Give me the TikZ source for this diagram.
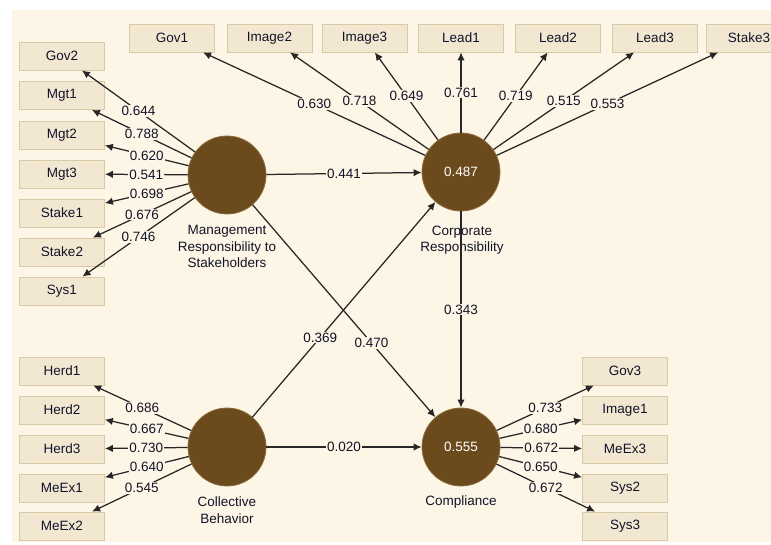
\documentclass[tikz,border=0pt]{standalone}
\usepackage{fontspec}
\setmainfont{Liberation Sans}
\usetikzlibrary{arrows.meta}
\definecolor{bg}{HTML}{FDF6E7}
\definecolor{boxfill}{HTML}{F2E8D2}
\definecolor{boxline}{HTML}{D9C9A6}
\definecolor{lv}{HTML}{6B4A1E}
\definecolor{lvline}{HTML}{8C6C3A}
\definecolor{ink}{HTML}{121228}
\definecolor{edge}{HTML}{262626}
\tikzset{
  ind/.style={draw=boxline, fill=boxfill, line width=0.8pt, minimum width=85pt, minimum height=28pt, inner sep=0pt, text=ink, font=\fontsize{13.5}{16}\selectfont},
  latent/.style={circle, fill=lv, draw=lvline, line width=0.8pt, minimum size=78pt, inner sep=0pt, text=white, font=\fontsize{13.5}{16}\selectfont},
  lvcaption/.style={align=center, text=ink, font=\fontsize{13.5}{16.5}\selectfont, inner sep=0pt},
  lab/.style={fill=bg, inner sep=1pt, text=ink, font=\fontsize{13.5}{16}\selectfont},
  arr/.style={draw=edge, line width=1.25pt, -{Latex[length=8pt,width=7.5pt]}}
}
\begin{document}
\begin{tikzpicture}[x=1pt,y=-1pt]
\useasboundingbox (0,0) rectangle (771,545);
\fill[bg] (12,10) rectangle (771,542);
\begin{scope}
\clip (0,0) rectangle (771,545);
% latent variables
\node[latent] (m) at (227,175) {};
\node[latent] (c) at (461,172) {0.487};
\node[latent] (b) at (227,447) {};
\node[latent] (p) at (461,447) {0.555};
\node[lvcaption] (mcap) at (227,246.5) {Management\\Responsibility to\\Stakeholders};
\node[lvcaption] (ccap) at (462,240) {Corporate\\Responsibility};
\node[lvcaption] (bcap) at (227,510) {Collective\\Behavior};
\node[lvcaption] (pcap) at (461,502) {Compliance};
% top indicators
\node[ind] (gov1) at (172,38) {Gov1};
\node[ind] (image2) at (269.5,38) {Image2};
\node[ind] (image3) at (364.5,38) {Image3};
\node[ind] (lead1) at (461,38) {Lead1};
\node[ind] (lead2) at (558,38) {Lead2};
\node[ind] (lead3) at (655,38) {Lead3};
\node[ind] (stake3) at (749,38) {Stake3};
% left upper indicators
\node[ind] (gov2) at (62,56) {Gov2};
\node[ind] (mgt1) at (62,95.5) {Mgt1};
\node[ind] (mgt2) at (62,135) {Mgt2};
\node[ind] (mgt3) at (62,174) {Mgt3};
\node[ind] (stake1) at (62,213) {Stake1};
\node[ind] (stake2) at (62,252) {Stake2};
\node[ind] (sys1) at (62,291) {Sys1};
% left lower indicators
\node[ind] (herd1) at (62,371) {Herd1};
\node[ind] (herd2) at (62,410) {Herd2};
\node[ind] (herd3) at (62,449) {Herd3};
\node[ind] (meex1) at (62,488) {MeEx1};
\node[ind] (meex2) at (62,526) {MeEx2};
% right lower indicators
\node[ind] (gov3) at (625,371) {Gov3};
\node[ind] (image1) at (625,410) {Image1};
\node[ind] (meex3) at (625,449) {MeEx3};
\node[ind] (sys2) at (625,488) {Sys2};
\node[ind] (sys3) at (625,526) {Sys3};
% outer loadings MRS
\draw[arr] (m) -- node[lab]{0.644} (gov2);
\draw[arr] (m) -- node[lab]{0.788} (mgt1);
\draw[arr] (m) -- node[lab]{0.620} (mgt2);
\draw[arr] (m) -- node[lab]{0.541} (mgt3);
\draw[arr] (m) -- node[lab]{0.698} (stake1);
\draw[arr] (m) -- node[lab]{0.676} (stake2);
\draw[arr] (m) -- node[lab]{0.746} (sys1);
% outer loadings Corporate
\draw[arr] (c) -- node[lab]{0.630} (gov1);
\draw[arr] (c) -- node[lab]{0.718} (image2);
\draw[arr] (c) -- node[lab]{0.649} (image3);
\draw[arr] (c) -- node[lab]{0.761} (lead1);
\draw[arr] (c) -- node[lab]{0.719} (lead2);
\draw[arr] (c) -- node[lab]{0.515} (lead3);
\draw[arr] (c) -- node[lab]{0.553} (stake3);
% outer loadings Collective
\draw[arr] (b) -- node[lab]{0.686} (herd1);
\draw[arr] (b) -- node[lab]{0.667} (herd2);
\draw[arr] (b) -- node[lab]{0.730} (herd3);
\draw[arr] (b) -- node[lab]{0.640} (meex1);
\draw[arr] (b) -- node[lab]{0.545} (meex2);
% outer loadings Compliance
\draw[arr] (p) -- node[lab]{0.733} (gov3);
\draw[arr] (p) -- node[lab]{0.680} (image1);
\draw[arr] (p) -- node[lab]{0.672} (meex3);
\draw[arr] (p) -- node[lab]{0.650} (sys2);
\draw[arr] (p) -- node[lab]{0.672} (sys3);
% structural paths
\draw[arr] (m) -- node[lab]{0.441} (c);
\draw[arr] (c) -- node[lab]{0.343} (p);
\draw[arr] (m) -- node[lab,pos=0.65]{0.470} (p);
\draw[arr] (b) -- node[lab,pos=0.37]{0.369} (c);
\draw[arr] (b) -- node[lab]{0.020} (p);
\end{scope}
\end{tikzpicture}
\end{document}
